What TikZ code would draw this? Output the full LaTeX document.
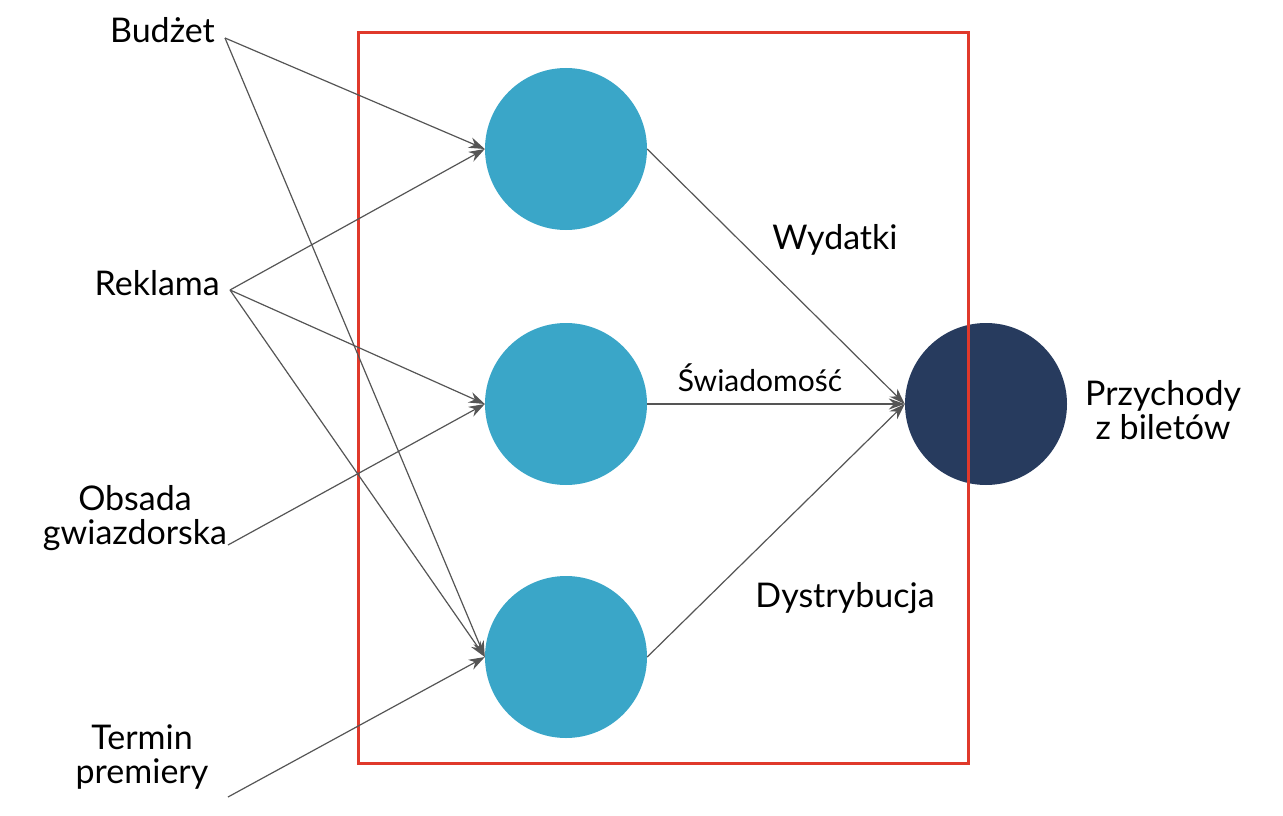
\documentclass[tikz,border=0pt]{standalone}
\usepackage{fontspec}
\setmainfont{Lato}
\usetikzlibrary{arrows.meta}
\definecolor{lb}{HTML}{3AA6C8}
\definecolor{db}{HTML}{273B5E}
\definecolor{rd}{HTML}{E0392B}
\definecolor{ln}{HTML}{555555}
\begin{document}
\begin{tikzpicture}[x=1pt,y=-1pt,
  lbl/.style={font=\fontsize{34}{40}\selectfont,align=center,inner sep=0},
  hid/.style={circle,fill=lb,minimum size=162pt,inner sep=0},
  outn/.style={circle,fill=db,minimum size=162pt,inner sep=0},
  con/.style={draw=ln,line width=1.2pt,-{Stealth[length=16pt,width=11pt]}}]
\useasboundingbox (0,0) rectangle (1283,816);
\node[hid] (h1) at (566,149) {};
\node[hid] (h2) at (566,404) {};
\node[hid] (h3) at (566,657) {};
\node[outn] (o) at (986,404) {};
\node[draw=rd,line width=3pt,minimum width=610pt,minimum height=730pt,inner sep=0] (box) at (663,398) {};
\node[lbl,anchor=east] (b) at (215,30) {Budżet};
\node[lbl,anchor=east] (r) at (220,283) {Reklama};
\node[lbl] (g) at (135,518) {Obsada\\[-6pt]gwiazdorska};
\node[lbl] (t) at (142,757) {Termin\\[-6pt]premiery};
\node[lbl,anchor=west] (p) at (1085,410) {Przychody\\[-6pt]z biletów};
\coordinate (bs) at (225,38);
\coordinate (rs) at (230,290);
\coordinate (gs) at (228,545);
\coordinate (ts) at (228,797);
\draw[con] (bs) -- (h1.west);
\draw[con] (bs) -- (h3.west);
\draw[con] (rs) -- (h1.west);
\draw[con] (rs) -- (h2.west);
\draw[con] (rs) -- (h3.west);
\draw[con] (gs) -- (h2.west);
\draw[con] (ts) -- (h3.west);
\draw[con] (h1.east) -- (o.west);
\draw[con] (h2.east) -- (o.west);
\draw[con] (h3.east) -- (o.west);
\node[lbl] (w) at (835,240) {Wydatki};
\node[lbl,font=\fontsize{30}{36}\selectfont] (s) at (760,378) {Świadomość};
\node[lbl] (d) at (845,598) {Dystrybucja};
\end{tikzpicture}
\end{document}
